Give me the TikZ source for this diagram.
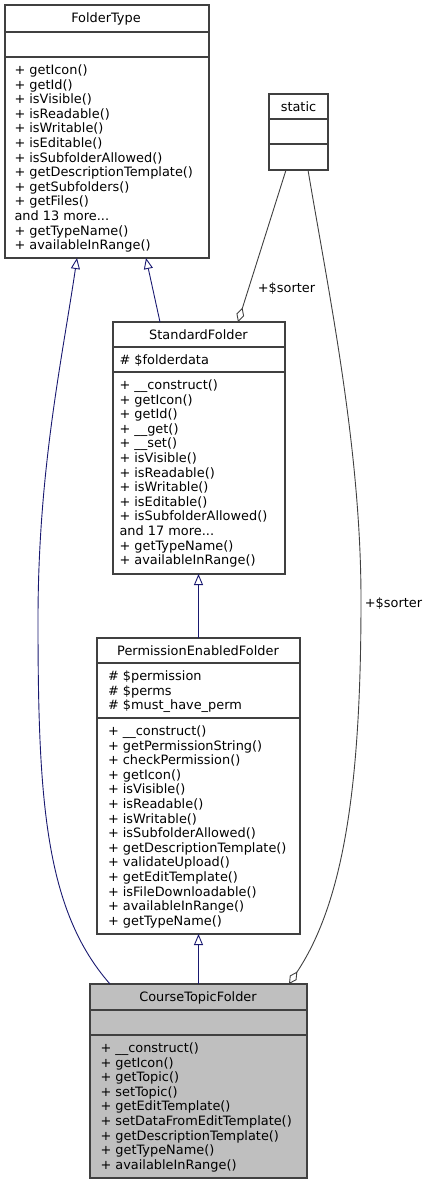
\documentclass[tikz,border=0pt]{standalone}
\usepackage{fontspec}
\setmainfont{DejaVu Sans}
\usetikzlibrary{arrows.meta}
\definecolor{boxgray}{HTML}{404040}
\definecolor{edgeblue}{HTML}{191970}
\definecolor{ctfill}{HTML}{BFBFBF}
\newcommand{\mlist}[1]{\begin{tabular}[t]{@{}l@{}}#1\end{tabular}}
\begin{document}
\begin{tikzpicture}[x=1pt,y=-1pt,
  every node/.style={font=\fontsize{12.9}{14.6}\selectfont, inner sep=0pt, outer sep=0pt},
  classbox/.style={draw=boxgray, line width=1.3pt, fill=white},
  sepline/.style={draw=boxgray, line width=1.3pt},
  txt/.style={anchor=base west},
  ttl/.style={anchor=base},
  inh/.style={draw=edgeblue, line width=0.9pt, -{Triangle[open, length=11pt, width=9pt]}},
  agg/.style={draw=boxgray, line width=0.9pt, -{Diamond[open, length=15pt, width=8pt]}},
  elabel/.style={anchor=center}]
\useasboundingbox (0,0) rectangle (427,1184);

% FolderType
\node[classbox, minimum width=204pt, minimum height=253pt] (ft) at (107,131.5) {};
\draw[sepline] (ft.west |- 0,32) -- (ft.east |- 0,32);
\draw[sepline] (ft.west |- 0,57) -- (ft.east |- 0,57);
\node[ttl] (ftt) at (106,22.5) {FolderType};
\node[txt] (ftm) at (14.5,74.5) {\mlist{+ getIcon()\\+ getId()\\+ isVisible()\\+ isReadable()\\+ isWritable()\\+ isEditable()\\+ isSubfolderAllowed()\\+ getDescriptionTemplate()\\+ getSubfolders()\\+ getFiles()\\and 13 more...\\+ getTypeName()\\+ availableInRange()}};

% static
\node[classbox, minimum width=59pt, minimum height=76pt] (st) at (298.5,132) {};
\draw[sepline] (st.west |- 0,119) -- (st.east |- 0,119);
\draw[sepline] (st.west |- 0,144) -- (st.east |- 0,144);
\node[ttl] (stt) at (298.5,111.5) {static};

% StandardFolder
\node[classbox, minimum width=172pt, minimum height=252pt] (sf) at (199,448) {};
\draw[sepline] (sf.west |- 0,347) -- (sf.east |- 0,347);
\draw[sepline] (sf.west |- 0,372) -- (sf.east |- 0,372);
\node[ttl] (sft) at (198.5,339.5) {StandardFolder};
\node[txt] (sfa) at (119.5,364.5) {\# \$folderdata};
\node[txt] (sfm) at (119.5,389.5) {\mlist{+ \_\_construct()\\+ getIcon()\\+ getId()\\+ \_\_get()\\+ \_\_set()\\+ isVisible()\\+ isReadable()\\+ isWritable()\\+ isEditable()\\+ isSubfolderAllowed()\\and 17 more...\\+ getTypeName()\\+ availableInRange()}};

% PermissionEnabledFolder
\node[classbox, minimum width=203pt, minimum height=296pt] (pef) at (198.5,786) {};
\draw[sepline] (pef.west |- 0,663) -- (pef.east |- 0,663);
\draw[sepline] (pef.west |- 0,718) -- (pef.east |- 0,718);
\node[ttl] (peft) at (198,655) {PermissionEnabledFolder};
\node[txt] (pefa) at (108,680.5) {\mlist{\# \$permission\\\# \$perms\\\# \$must\_have\_perm}};
\node[txt] (pefm) at (108,735.5) {\mlist{+ \_\_construct()\\+ getPermissionString()\\+ checkPermission()\\+ getIcon()\\+ isVisible()\\+ isReadable()\\+ isWritable()\\+ isSubfolderAllowed()\\+ getDescriptionTemplate()\\+ validateUpload()\\+ getEditTemplate()\\+ isFileDownloadable()\\+ availableInRange()\\+ getTypeName()}};

% CourseTopicFolder
\node[classbox, fill=ctfill, minimum width=217pt, minimum height=194pt] (ctf) at (198.5,1081) {};
\draw[sepline] (ctf.west |- 0,1010) -- (ctf.east |- 0,1010);
\draw[sepline] (ctf.west |- 0,1035) -- (ctf.east |- 0,1035);
\node[ttl] (ctft) at (198,1001.5) {CourseTopicFolder};
\node[txt] (ctfm) at (100.5,1052.5) {\mlist{+ \_\_construct()\\+ getIcon()\\+ getTopic()\\+ setTopic()\\+ getEditTemplate()\\+ setDataFromEditTemplate()\\+ getDescriptionTemplate()\\+ getTypeName()\\+ availableInRange()}};

% inheritance
\draw[inh] ([xshift=-39pt]sf.north) -- ([xshift=39pt]ft.south);
\draw[inh] (pef.north) -- (pef.north |- sf.south);
\draw[inh] (ctf.north) -- (ctf.north |- pef.south);
\draw[inh] ([xshift=20pt]ctf.north west) .. controls (45,910) and (38,800) .. (38,620) .. controls (38,470) and (62,360) .. ([xshift=72pt]ft.south west);

% aggregation
\draw[agg] ([xshift=17pt]st.south west) -- ([xshift=125pt]sf.north west);
\draw[agg] ([xshift=39pt]st.south west) .. controls (330,300) and (361,450) .. (361,600) .. controls (361,780) and (345,900) .. ([xshift=-18pt]ctf.north east);
\node[elabel] (l1) at (286.5,289) {+\$sorter};
\node[elabel] (l2) at (393.5,604) {+\$sorter};
\end{tikzpicture}
\end{document}
